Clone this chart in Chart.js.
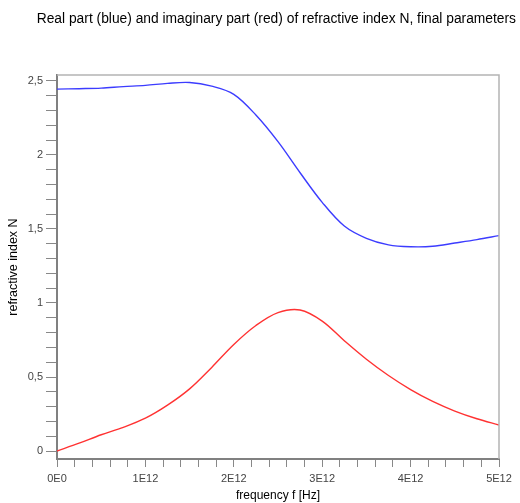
<!DOCTYPE html>
<html>
<head>
<meta charset="utf-8">
<script src="https://cdn.jsdelivr.net/npm/chart.js@4/dist/chart.umd.min.js"></script>
<style>
  html, body { margin: 0; padding: 0; background: #fff; }
  #wrap { width: 520px; height: 503px; }
</style>
</head>
<body>
<div id="wrap"><canvas id="chart" width="520" height="503"></canvas></div>
<script>
// frequency in units of 1E12 Hz
const freq = [0, 0.25, 0.5, 0.75, 1, 1.25, 1.5, 1.75, 2, 2.25, 2.5, 2.75, 3, 3.25, 3.5, 3.75, 4, 4.25, 4.5, 4.75, 5];
const realN = [2.445, 2.448, 2.452, 2.462, 2.470, 2.484, 2.490, 2.465, 2.410, 2.270, 2.090, 1.880, 1.680, 1.520, 1.437, 1.393, 1.380, 1.383, 1.405, 1.428, 1.455];
const imagN = [0, 0.053, 0.110, 0.160, 0.222, 0.310, 0.420, 0.565, 0.720, 0.848, 0.935, 0.953, 0.878, 0.745, 0.620, 0.510, 0.415, 0.335, 0.270, 0.218, 0.176];

const xMajor = [0, 1, 2, 3, 4, 5];
const xLabels = ['0E0', '1E12', '2E12', '3E12', '4E12', '5E12'];
const yMajor = [0, 0.5, 1, 1.5, 2, 2.5];
const yLabels = ['0', '0,5', '1', '1,5', '2', '2,5'];
const minorPerMajor = 5;

function withMinor(major) {
  const out = [];
  for (let i = 0; i < major.length - 1; i++) {
    const step = (major[i + 1] - major[i]) / minorPerMajor;
    for (let k = 0; k < minorPerMajor; k++) out.push(major[i] + k * step);
  }
  out.push(major[major.length - 1]);
  return out;
}

function labelFor(major, labels, v) {
  const i = major.findIndex(m => Math.abs(m - v) < 1e-6);
  return i >= 0 ? labels[i] : '';
}

const frame = {
  id: 'frame',
  afterDraw(chart) {
    const { ctx, chartArea: a } = chart;
    ctx.save();
    ctx.strokeStyle = '#b4b4b4';
    ctx.lineWidth = 1.5;
    ctx.beginPath();
    ctx.moveTo(a.left, a.top);
    ctx.lineTo(a.right, a.top);
    ctx.lineTo(a.right, a.bottom);
    ctx.stroke();
    ctx.restore();
  }
};

const fontFamily = '"Liberation Sans", Arial, sans-serif';

new Chart(document.getElementById('chart'), {
  type: 'line',
  data: {
    datasets: [
      {
        label: 'Real part',
        data: freq.map((f, i) => ({ x: f, y: realN[i] })),
        borderColor: 'rgb(60,60,255)',
        borderWidth: 1.4,
        pointRadius: 0,
        tension: 0.35,
        fill: false
      },
      {
        label: 'Imaginary part',
        data: freq.map((f, i) => ({ x: f, y: imagN[i] })),
        borderColor: 'rgb(255,50,50)',
        borderWidth: 1.4,
        pointRadius: 0,
        tension: 0.35,
        fill: false
      }
    ]
  },
  options: {
    responsive: false,
    animation: false,
    layout: { padding: { left: 0, right: 4, top: 0, bottom: 0 } },
    plugins: {
      legend: { display: false },
      tooltip: { enabled: false },
      title: {
        display: true,
        align: 'end',
        text: 'Real part (blue) and imaginary part (red) of refractive index N, final parameters',
        color: '#000',
        font: { family: fontFamily, size: 13.8, weight: 'normal' },
        padding: { top: 10.5, bottom: 48 }
      }
    },
    scales: {
      x: {
        type: 'linear',
        min: 0,
        max: 5,
        afterBuildTicks: s => { s.ticks = withMinor(xMajor).map(v => ({ value: v })); },
        afterFit: s => { s.height = 44; },
        ticks: {
          autoSkip: false,
          maxRotation: 0,
          padding: 5,
          color: '#444',
          font: { family: fontFamily, size: 11 },
          callback: v => labelFor(xMajor, xLabels, v)
        },
        grid: { drawOnChartArea: false, drawTicks: true, tickLength: 8, color: '#888', lineWidth: 1 },
        border: { color: '#808080', width: 2 },
        title: {
          display: true,
          text: 'frequency f [Hz]',
          color: '#000',
          font: { family: fontFamily, size: 12 },
          padding: { top: 0, bottom: 0 }
        }
      },
      y: {
        type: 'linear',
        min: -0.054,
        max: 2.54,
        afterBuildTicks: s => { s.ticks = withMinor(yMajor).map(v => ({ value: v })); },
        afterFit: s => { s.width = 57; },
        ticks: {
          autoSkip: false,
          padding: 3,
          color: '#444',
          font: { family: fontFamily, size: 11 },
          callback: v => labelFor(yMajor, yLabels, v)
        },
        grid: { drawOnChartArea: false, drawTicks: true, tickLength: 11, color: '#888', lineWidth: 1 },
        border: { color: '#808080', width: 2 },
        title: {
          display: true,
          text: 'refractive index N',
          color: '#000',
          font: { family: fontFamily, size: 12.5 },
          padding: { top: 6.5, bottom: 0 }
        }
      },
      // empty right-hand spacer so the plot ends where the reference does
      yRight: {
        type: 'linear',
        position: 'right',
        display: true,
        afterFit: s => { s.width = 17; },
        ticks: { display: false },
        grid: { display: false },
        border: { display: false }
      }
    }
  },
  plugins: [frame]
});
</script>
</body>
</html>
